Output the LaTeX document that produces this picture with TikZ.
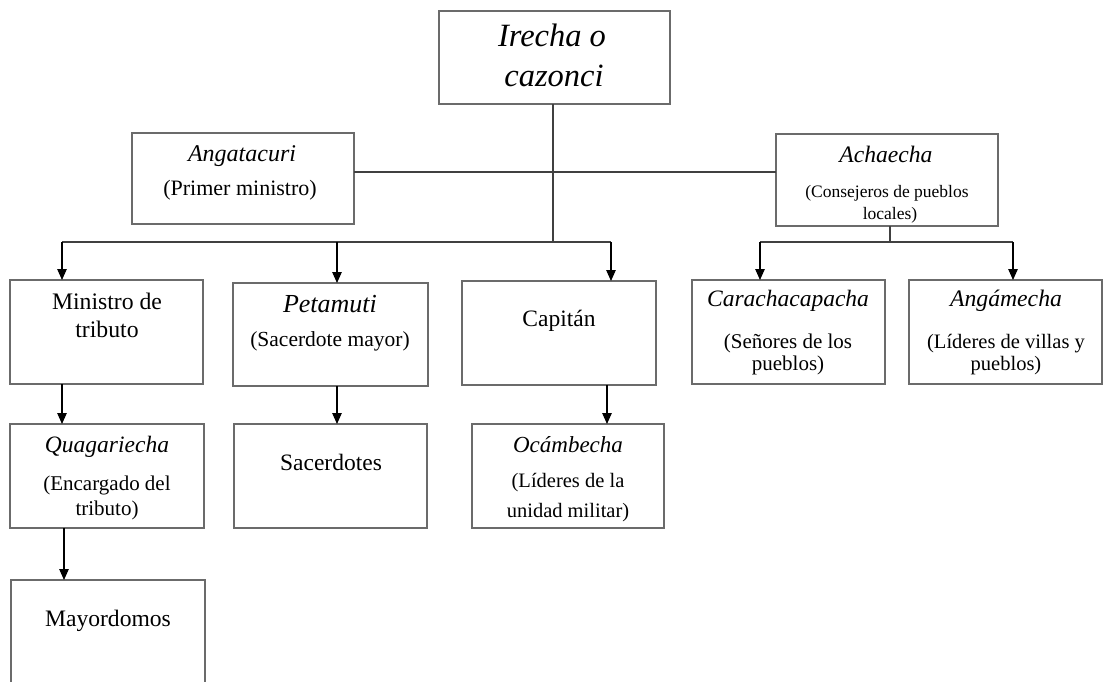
\documentclass[tikz,border=0pt]{standalone}
\usepackage{fontspec}
\setmainfont{Liberation Serif}
\usetikzlibrary{arrows.meta}
\newcommand{\fs}[1]{\fontsize{#1}{#1}\selectfont}
\begin{document}
\begin{tikzpicture}[x=1pt,y=-1pt,
  box/.style={draw=black!58, line width=1.2pt, inner sep=0pt, outer sep=0pt, fill=white},
  conn/.style={draw=black!75, line width=1.2pt},
  arr/.style={conn, -{Triangle[width=9.5pt,length=11pt]}, black},
  txt/.style={anchor=base, inner sep=0pt, text=black}]
\useasboundingbox (0,0) rectangle (1103,682);
\clip (0,0) rectangle (1103,682);
% boxes
\node[box, minimum width=231pt, minimum height=93pt] (top) at (554.5,57.5) {};
\node[box, minimum width=222pt, minimum height=91pt] (ang) at (243,178.5) {};
\node[box, minimum width=222pt, minimum height=92pt] (ach) at (887,180) {};
\node[box, minimum width=193pt, minimum height=104pt] (min) at (106.5,332) {};
\node[box, minimum width=195pt, minimum height=103pt] (pet) at (330.5,334.5) {};
\node[box, minimum width=194pt, minimum height=104pt] (cap) at (559,333) {};
\node[box, minimum width=193pt, minimum height=104pt] (car) at (788.5,332) {};
\node[box, minimum width=193pt, minimum height=104pt] (angm) at (1005.5,332) {};
\node[box, minimum width=194pt, minimum height=104pt] (quag) at (107,476) {};
\node[box, minimum width=193pt, minimum height=104pt] (sac) at (330.5,476) {};
\node[box, minimum width=192pt, minimum height=104pt] (oca) at (568,476) {};
\node[box, minimum width=194pt, minimum height=110pt] (may) at (108,635) {};
% texts
\node[txt] (top1) at (552,47) {\fs{32.5}\itshape Irecha o};
\node[txt] (top2) at (554,87) {\fs{32.5}\itshape cazonci};
\node[txt] (ang1) at (242,161) {\fs{24}\itshape Angatacuri};
\node[txt] (ang2) at (240,195) {\fs{22}(Primer ministro)};
\node[txt] (ach1) at (886,162) {\fs{23.6}\itshape Achaecha};
\node[txt] (ach2) at (887,197) {\fs{17.5}(Consejeros de pueblos};
\node[txt] (ach3) at (890,219) {\fs{17.5}locales)};
\node[txt] (min1) at (107,309) {\fs{23.7}Ministro de};
\node[txt] (min2) at (107,337) {\fs{23.7}tributo};
\node[txt] (pet1) at (330,312) {\fs{26}\itshape Petamuti};
\node[txt] (pet2) at (330,346) {\fs{21.5}(Sacerdote mayor)};
\node[txt] (cap1) at (559,326) {\fs{23.5}Capitán};
\node[txt] (car1) at (788,306) {\fs{23.5}\itshape Carachacapacha};
\node[txt] (car2) at (788,348) {\fs{21}(Señores de los};
\node[txt] (car3) at (788,370) {\fs{21}pueblos)};
\node[txt] (angm1) at (1006,306) {\fs{23.7}\itshape Angámecha};
\node[txt] (angm2) at (1006,348) {\fs{20.5}(Líderes de villas y};
\node[txt] (angm3) at (1006,370) {\fs{20.5}pueblos)};
\node[txt] (quag1) at (107,452) {\fs{23.5}\itshape Quagariecha};
\node[txt] (quag2) at (107,490) {\fs{21}(Encargado del};
\node[txt] (quag3) at (107,515) {\fs{21}tributo)};
\node[txt] (sac1) at (331,470) {\fs{23.5}Sacerdotes};
\node[txt] (oca1) at (568,452) {\fs{23}\itshape Ocámbecha};
\node[txt] (oca2) at (568,487) {\fs{20.5}(Líderes de la};
\node[txt] (oca3) at (568,517) {\fs{20.5}unidad militar)};
\node[txt] (may1) at (108,626) {\fs{23.6}Mayordomos};
% connector coordinates
\coordinate (hline) at (553,172);
\coordinate (busL) at (62,242);
\coordinate (busR) at (611,242);
\coordinate (bus2L) at (760,242);
\coordinate (bus2R) at (1013,242);
\coordinate (bus2M) at (890,242);
% connectors
\draw[conn] (top.south -| hline) -- (hline |- busL);
\draw[conn] (ang.east |- hline) -- (ach.west |- hline);
\draw[conn] (busL) -- (busR);
\draw[arr] (busL) -- (min.north -| busL);
\draw[arr] (busL -| pet.north) ++(6.5,0) coordinate (busP) -- (busP |- pet.north);
\draw[arr] (busR) -- (busR |- cap.north);
\draw[conn] (ach.south -| bus2M) -- (bus2M);
\draw[conn] (bus2L) -- (bus2R);
\draw[arr] (bus2L) -- (bus2L |- car.north);
\draw[arr] (bus2R) -- (bus2R |- angm.north);
\draw[arr] (min.south -| busL) -- (busL |- quag.north);
\draw[arr] (pet.south -| busP) -- (busP |- sac.north);
\draw[arr] ([xshift=48pt]cap.south) coordinate (capS) -- (capS |- oca.north);
\draw[arr] ([xshift=-43pt]quag.south) coordinate (quagS) -- (quagS |- may.north);
\end{tikzpicture}
\end{document}
